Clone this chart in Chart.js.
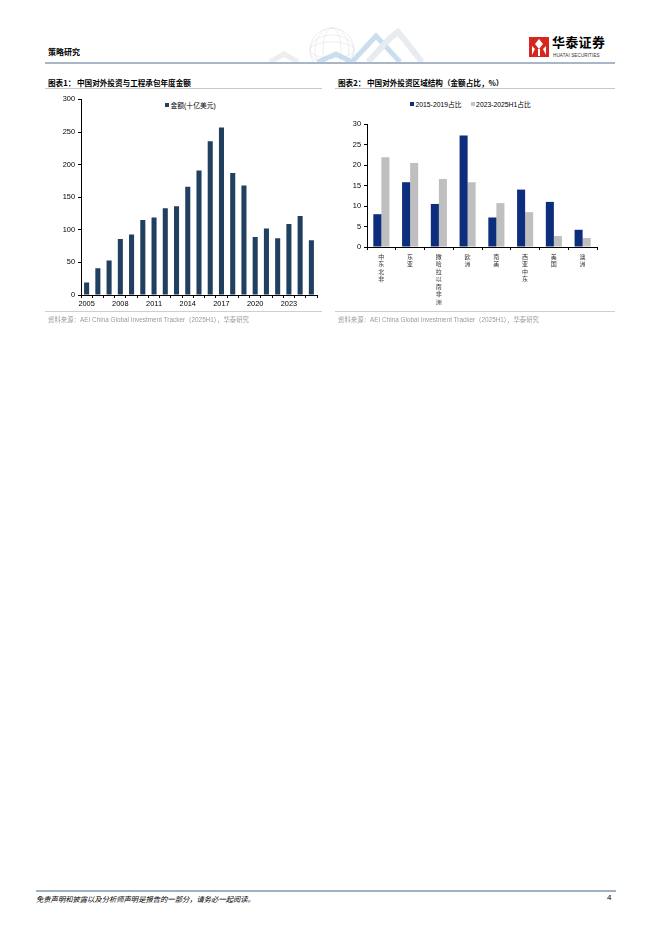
<!DOCTYPE html>
<html>
<head>
<meta charset="utf-8">
<script src="https://cdn.jsdelivr.net/npm/chart.js@4.4.1/dist/chart.umd.min.js"></script>
<style>
    html, body { margin: 0; padding: 0; background: #fff; }
    body { width: 662px; height: 936px; position: relative; overflow: hidden;
           font-family: "Liberation Sans", "Noto Sans CJK SC", sans-serif; color: #000; }
    .abs { position: absolute; }
    .hdr { left: 48px; top: 46px; font-size: 8px; font-weight: 700; font-family: "Noto Sans CJK SC", serif; }
    .hline { left: 45px; top: 62px; width: 570px; height: 2px; background: #a8b7c7; }
    .title { top: 77px; font-size: 7.6px; font-weight: 700; font-family: "Noto Sans CJK SC", sans-serif; white-space: nowrap; }
    .tline { top: 88px; height: 1px; background: #c8c8c8; }
    .sline { top: 311px; height: 1px; background: #cfcfcf; }
    .src { top: 315px; font-size: 6.4px; color: #9a9a9a; white-space: nowrap; }
    .legend { font-size: 6.8px; white-space: nowrap; display: flex; align-items: center; }
    .legend .sw { display: inline-block; width: 4px; height: 4px; margin-right: 1.5px; }
    .legend .item { display: flex; align-items: center; margin-right: 9px; }
    .fline { left: 36px; top: 890px; width: 580px; height: 2px; background: #9fb0c2; }
    .ftxt { left: 36px; top: 894px; font-size: 7.3px; font-style: italic; font-family: "Noto Sans CJK SC", serif; }
    .page { left: 607px; top: 893px; font-size: 8px; }
    canvas { position: absolute; }
</style>
</head>
<body>

<!-- header -->
<div class="abs hdr">策略研究</div>
<svg class="abs" style="left:240px;top:26px" width="190" height="36" viewBox="0 0 190 36">
    <g fill="none" stroke="#e0e2e5" stroke-width="0.6">
        <circle cx="92" cy="24" r="22"/>
        <ellipse cx="92" cy="24" rx="9" ry="22"/>
        <ellipse cx="92" cy="24" rx="17" ry="22"/>
        <ellipse cx="92" cy="24" rx="22" ry="8"/>
        <ellipse cx="92" cy="24" rx="22" ry="15"/>
    </g>
    <polyline points="30,36 44,28 58,36" fill="none" stroke="#eceef0" stroke-width="5"/>
    <polyline points="78,36 96,28 112,36 136,10 160,36" fill="none" stroke="#b9d3ea" stroke-width="5" opacity="0.75"/>
    <polyline points="128,36 150,12 158,6 182,36" fill="none" stroke="#e7ecf1" stroke-width="6"/>
</svg>
<svg class="abs" style="left:529px;top:37px" width="20" height="20" viewBox="0 0 20 20">
    <rect x="0" y="0" width="20" height="20" fill="#d7261e"/>
    <path d="M10 2 L14 7 L10 12 L6 7 Z" fill="#fff"/>
    <path d="M3 9 L6 12 L3 18 Z M17 9 L14 12 L17 18 Z" fill="#fff"/>
    <rect x="9" y="12" width="2" height="7" fill="#fff"/>
</svg>
<div class="abs" style="left:552px;top:33px;font-size:13px;line-height:17px;font-weight:700;font-family:'Noto Sans CJK SC';letter-spacing:0.3px">华泰证券</div>
<div class="abs" style="left:553px;top:53px;font-size:4.6px;line-height:5px;color:#333;letter-spacing:0.1px">HUATAI SECURITIES</div>
<div class="abs hline"></div>

<!-- chart 1 -->
<div class="abs title" style="left:48px">图表1：&nbsp;中国对外投资与工程承包年度金额</div>
<div class="abs tline" style="left:45px;width:277px"></div>
<div class="abs legend" id="legend1" style="left:165px;top:100px"></div>
<canvas id="chart1" width="282" height="220" style="left:40px;top:92px"></canvas>
<div class="abs sline" style="left:45px;width:277px"></div>
<div class="abs src" style="left:48px">资料来源：AEI China Global Investment Tracker（2025H1），华泰研究</div>

<!-- chart 2 -->
<div class="abs title" style="left:338px">图表2：&nbsp;中国对外投资区域结构（金额占比，%）</div>
<div class="abs tline" style="left:335px;width:280px"></div>
<div class="abs legend" id="legend2" style="left:410px;top:99px"></div>
<canvas id="chart2" width="285" height="198" style="left:335px;top:112px"></canvas>
<div class="abs sline" style="left:335px;width:280px"></div>
<div class="abs src" style="left:338px">资料来源：AEI China Global Investment Tracker（2025H1），华泰研究</div>

<!-- footer -->
<div class="abs fline"></div>
<div class="abs ftxt">免责声明和披露以及分析师声明是报告的一部分，请务必一起阅读。</div>
<div class="abs page">4</div>

<script>
// Chart 1: annual amount (billion USD)
const years = ['2005', '2006', '2007', '2008', '2009', '2010', '2011', '2012', '2013', '2014', '2015',
               '2016', '2017', '2018', '2019', '2020', '2021', '2022', '2023', '2024', '2025'];
const amountLabel = '金额(十亿美元)';
const amounts = [19, 41, 53, 86, 93, 115, 119, 133, 136, 166, 191,
                 236, 257, 187, 168, 89, 102, 87, 109, 121, 84];
const amountTicks = [0, 50, 100, 150, 200, 250, 300];

// Chart 2: regional structure (% of amount)
const regions = ['中东北非', '东亚', '撒哈拉以南非洲', '欧洲', '南美', '西亚中东', '美国', '澳洲'];
const share1519Label = '2015-2019占比';
const share1519 = [8.0, 15.8, 10.5, 27.2, 7.2, 14.0, 11.0, 4.2];
const share2325Label = '2023-2025H1占比';
const share2325 = [21.9, 20.5, 16.6, 15.8, 10.7, 8.5, 2.7, 2.2];
const shareTicks = [0, 5, 10, 15, 20, 25, 30];

const FONT = '"Liberation Sans", "Noto Sans CJK SC", sans-serif';
const NAVY1 = '#213f5e';
const NAVY2 = '#0d2e7c';
const GREY = '#bfbfbf';

function fixWidth(w) { return scale => { scale.width = w; }; }
function fixHeight(h) { return scale => { scale.height = h; }; }

function buildLegend(id, items) {
    const box = document.getElementById(id);
    items.forEach(it => {
        const span = document.createElement('span');
        span.className = 'item';
        span.innerHTML = `<span class="sw" style="background:${it.color}"></span>${it.label}`;
        box.appendChild(span);
    });
}

function axisY(max, step, width) {
    return {
        min: 0, max: max,
        afterFit: fixWidth(width),
        border: { color: '#000', width: 1 },
        grid: { drawOnChartArea: false, color: '#000', tickLength: 3 },
        ticks: { stepSize: step, padding: 3, color: '#000', font: { family: FONT, size: 7.4 } }
    };
}

buildLegend('legend1', [{ label: amountLabel, color: NAVY1 }]);
buildLegend('legend2', [{ label: share1519Label, color: NAVY2 }, { label: share2325Label, color: '#c4c4c4' }]);

new Chart(document.getElementById('chart1'), {
    type: 'bar',
    data: {
        labels: years,
        datasets: [{
            label: amountLabel,
            data: amounts,
            backgroundColor: NAVY1,
            barPercentage: 0.45,
            categoryPercentage: 1
        }]
    },
    options: {
        responsive: false,
        animation: false,
        layout: { padding: { top: 6, right: 5, left: 0, bottom: 0 } },
        plugins: { legend: { display: false }, tooltip: { enabled: false } },
        scales: {
            x: {
                afterFit: fixHeight(17),
                border: { color: '#000', width: 1 },
                grid: { drawOnChartArea: false, color: '#000', tickLength: 3, offset: true },
                ticks: {
                    autoSkip: false, maxRotation: 0, padding: 2, color: '#000',
                    font: { family: FONT, size: 7.4 },
                    callback: function (v, i) { return i % 3 === 0 ? years[i] : ''; }
                }
            },
            y: axisY(amountTicks[amountTicks.length - 1], amountTicks[1] - amountTicks[0], 41)
        }
    }
});

new Chart(document.getElementById('chart2'), {
    type: 'bar',
    data: {
        labels: regions.map(r => r.split('')),
        datasets: [
            { label: share1519Label, data: share1519, backgroundColor: NAVY2,
              barPercentage: 1, categoryPercentage: 0.56 },
            { label: share2325Label, data: share2325, backgroundColor: GREY,
              barPercentage: 1, categoryPercentage: 0.56 }
        ]
    },
    options: {
        responsive: false,
        animation: false,
        layout: { padding: { top: 12, right: 23, left: 0, bottom: 0 } },
        plugins: { legend: { display: false }, tooltip: { enabled: false } },
        scales: {
            x: {
                afterFit: fixHeight(63),
                border: { color: '#000', width: 1 },
                grid: { drawOnChartArea: false, color: '#000', tickLength: 3, offset: true },
                ticks: {
                    autoSkip: false, maxRotation: 0, padding: 3, color: '#333',
                    font: { family: '"Noto Sans CJK SC", sans-serif', size: 6, lineHeight: 1.24 }
                }
            },
            y: axisY(shareTicks[shareTicks.length - 1], shareTicks[1] - shareTicks[0], 32)
        }
    }
});
</script>
</body>
</html>
